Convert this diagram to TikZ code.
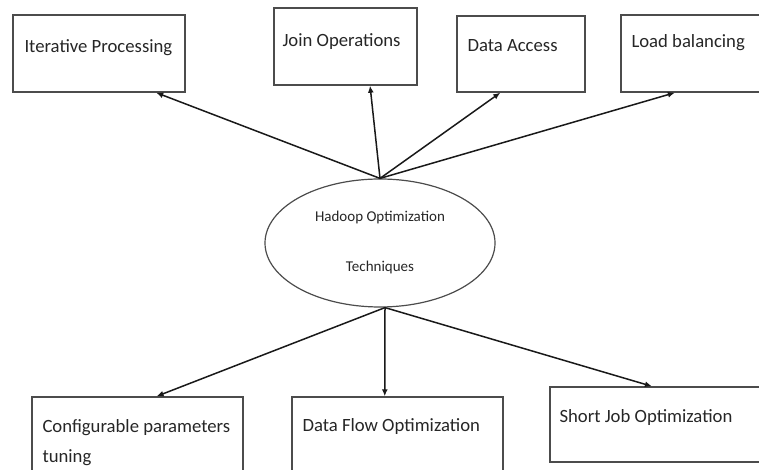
\documentclass[tikz,border=0pt]{standalone}
\usepackage{fontspec}
\setmainfont{Carlito}
\usetikzlibrary{shapes,calc,arrows.meta}

\tikzset{
	topic/.style = {draw = black!70, line width = 1.4pt, rectangle, inner sep = 0pt},
	topictext/.style = {anchor = base west, inner sep = 0pt, align = left, text = black!85, font = \fontsize{18.7}{30}\selectfont},
	link/.style = {draw = black!90, line width = 1.5pt, -{Latex[length=7pt,width=6pt]}}
}

\begin{document}
\begin{tikzpicture}[x = 1pt, y = 1pt]
	\useasboundingbox (0,0) rectangle (759,470);
	
	% centre
	\node[ellipse, draw = black!70, line width = 1.2pt, minimum width = 230pt, minimum height = 128pt, align = center, text = black!85, font = \fontsize{15}{50}\selectfont] (hot) at (380,227) {Hadoop Optimization\\Techniques};
	\coordinate (hub) at ([xshift = 5pt]hot.south);
	
	% top row
	\node[topic, minimum width = 172pt, minimum height = 77pt] (iter) at (99,416.5) {};
	\node[topic, minimum width = 143pt, minimum height = 77pt] (join) at (345.5,423.5) {};
	\node[topic, minimum width = 128pt, minimum height = 76pt] (access) at (521,416) {};
	\node[topic, minimum width = 169pt, minimum height = 77pt] (load) at (705.5,416.5) {};
	
	\node[topictext] (iterLbl) at ($(iter.north west)+(12,-38)$) {Iterative Processing};
	\node[topictext] (joinLbl) at ($(join.north west)+(9,-39)$) {Join Operations};
	\node[topictext] (accessLbl) at ($(access.north west)+(11,-36)$) {Data Access};
	\node[topictext] (loadLbl) at ($(load.north west)+(11,-33)$) {Load balancing};
	
	% bottom row
	\node[topic, minimum width = 211pt, minimum height = 93pt] (config) at (137.5,26.5) {};
	\node[topic, minimum width = 211pt, minimum height = 93pt] (flow) at (397.5,26.5) {};
	\node[topic, minimum width = 240pt, minimum height = 75pt] (short) at (670,45.5) {};
	
	% base of a two-line node is its last line
	\node[topictext] (configLbl) at ($(config.north west)+(11,-66)$) {Configurable parameters\\tuning};
	\node[topictext] (flowLbl) at ($(flow.north west)+(11,-35)$) {Data Flow Optimization};
	\node[topictext] (shortLbl) at ($(short.north west)+(10,-36)$) {Short Job Optimization};
	
	% arrows
	\draw[link] (hot.north) -- ($(iter.south west)!.83!(iter.south east)$);
	\draw[link] (hot.north) -- ($(join.south west)!.67!(join.south east)$);
	\draw[link] (hot.north) -- ($(access.south west)!.34!(access.south east)$);
	\draw[link] (hot.north) -- ($(load.south west)!.32!(load.south east)$);
	\draw[link] (hub) -- ($(config.north west)!.59!(config.north east)$);
	\draw[link] (hub) -- ($(flow.north west)!.44!(flow.north east)$);
	\draw[link] (hub) -- ($(short.north west)!.425!(short.north east)$);
\end{tikzpicture}
\end{document}
